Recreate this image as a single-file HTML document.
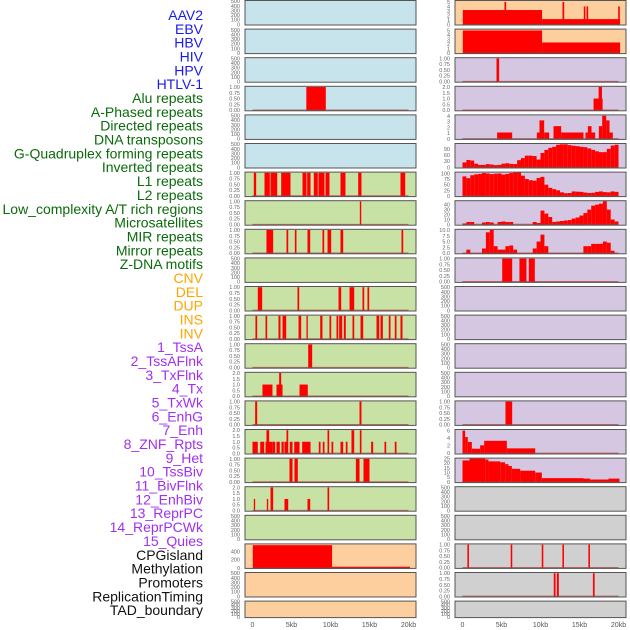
<!DOCTYPE html>
<html><head><meta charset="utf-8"><style>
html,body{margin:0;padding:0;background:#fff;}
svg{display:block;font-family:"Liberation Sans",sans-serif;}
</style></head><body>
<svg id="chart" width="630" height="630" viewBox="0 0 630 630" xmlns="http://www.w3.org/2000/svg"></svg>
<script>
// ---- labels ----
const trackLabels = ["AAV2","EBV","HBV","HIV","HPV","HTLV-1","Alu repeats","A-Phased repeats","Directed repeats","DNA transposons","G-Quadruplex forming repeats","Inverted repeats","L1 repeats","L2 repeats","Low_complexity A/T rich regions","Microsatellites","MIR repeats","Mirror repeats","Z-DNA motifs","CNV","DEL","DUP","INS","INV","1_TssA","2_TssAFlnk","3_TxFlnk","4_Tx","5_TxWk","6_EnhG","7_Enh","8_ZNF_Rpts","9_Het","10_TssBiv","11_BivFlnk","12_EnhBiv","13_ReprPC","14_ReprPCWk","15_Quies","CPGisland","Methylation","Promoters","ReplicationTiming","TAD_boundary"];
const xTickValues = [0,5,10,15,20];
const xTickLabels = ["0","5kb","10kb","15kb","20kb"];
const emptyTicks = [0,100,200,300,400,500];
const unitTicks = [0,0.25,0.5,0.75,1];
const twoTicks = [0,0.5,1,1.5,2];
// ---- left column segments [startKb, endKb, value] ----
const aluSegments = [[6.9,9.4,1]];
const l1Segments = [[0.17,0.47,1],[1.54,2.22,1],[2.31,3.17,1],[3.68,4.87,1],[6.41,6.92,1],[7.01,7.44,1],[7.86,8.37,1],[8.46,9.23,1],[9.36,9.87,1],[11.28,11.92,1],[13.55,13.97,1],[18.97,19.58,1]];
const lowComplexSegments = [[13.76,13.94,1]];
const mirSegments = [[1.79,2.65,1],[4.36,4.58,1],[5.43,5.64,1],[7.05,7.40,1],[8.97,9.19,1],[9.62,10.09,1],[11.28,11.63,1],[19.1,19.32,1]];
const delSegments = [[0.68,1.24,1],[5.77,5.99,1],[11.03,11.37,1],[12.44,13.04,1],[14.1,14.32,1],[14.74,14.96,1]];
const insSegments = [[0.38,0.6,1],[1.67,1.88,1],[3.33,3.59,1],[3.85,4.32,1],[5.9,6.24,1],[6.92,7.09,1],[8.68,8.97,1],[9.87,10.09,1],[10.77,10.99,1],[11.11,11.5,1],[11.71,11.96,1],[12.82,13.04,1],[13.85,14.19,1],[15.9,16.24,1],[16.41,16.71,1],[17.47,17.69,1],[18.24,18.46,1],[18.97,19.23,1]];
const tssaSegments = [[7.14,7.65,1]];
const txFlnkSegments = [[1.28,2.56,1],[3.08,3.85,1],[3.42,3.68,2],[6.03,7.09,1]];
const txWkSegments = [[0.34,0.6,1],[13.72,13.97,1]];
const enhSegments = [[0,0.68,1],[0.99,1.5,1],[1.67,2.6,1],[1.79,2.14,2],[2.6,2.91,1],[3.08,3.5,1],[3.72,4.01,1],[4.1,4.53,1],[4.36,4.58,2],[4.78,5.13,1],[5.35,6.03,1],[6.37,7.44,1],[8.5,8.72,1],[9.01,9.23,1],[9.62,9.83,2],[10.13,10.35,1],[11.28,11.63,1],[11.96,12.18,1],[12.69,13.04,2],[13.76,13.97,2],[15.21,15.47,1],[16.92,17.14,1],[18.24,18.46,1]];
const hetSegments = [[4.74,5.13,1],[5.38,5.81,1],[13.25,13.72,1],[14.23,15.0,1]];
const bivFlnkSegments = [[0.17,0.34,1],[1.84,2.01,1],[2.31,2.65,2],[4.1,4.58,1],[7.05,7.4,1],[9.62,9.83,2]];
const cpgSegments = [[0.04,10.2,545],[10.2,20.2,35]];
// ---- right column segments ----
const ebvSegments = [[0.04,10.2,3.2],[10.2,20.2,1.2],[5.38,5.6,5],[12.82,13.04,5],[15.55,15.75,4],[15.9,16.11,4],[19.96,20.17,4]];
const hivSegments = [[0.04,10.2,5],[10.2,20.2,2.35]];
const htlvSegments = [[4.36,4.7,1]];
const aPhasedSegments = [[16.8,17.96,1],[17.45,17.88,2]];
const dnaSegments = [[4.44,6.37,1.1],[9.53,9.87,1.1],[9.87,10.47,3.2],[10.47,11.11,1.1],[11.67,12.65,2.2],[12.65,15.51,1.1],[15.77,16.07,1.1],[16.07,16.54,2.2],[16.54,17.01,1.1],[17.48,17.91,2.2],[17.91,18.42,4],[18.42,18.85,3.2],[18.85,19.27,1.1]];
const cnvSegments = [[5.09,6.37,1],[7.3,8.2,1],[8.5,9.27,1]];
const enhGSegments = [[5.51,6.37,1]];
const znfSegments = [[0,0.34,6],[0.34,0.68,4.3],[0.68,1.2,3.0],[1.2,2.26,1.2],[2.26,2.78,2.1],[2.78,5.69,3.3],[5.69,9.32,1.3]];
const tssBivSegments = [[0,0.9,23],[0.9,2.91,25],[2.91,3.33,24],[3.33,4.83,22],[4.83,5.47,21],[5.47,5.9,19],[5.9,6.33,17],[6.33,7.39,14],[7.39,9.32,12],[9.32,10.17,10],[10.17,15.51,4],[15.51,16.37,3.5],[16.37,18.72,2.5],[18.72,20.13,3.5]];
const methSegments = [[0.63,0.83,1],[6.18,6.38,1],[10.16,10.36,1],[12.81,13.01,1],[16.14,16.34,1]];
const promoterSegments = [[11.7,11.93,1],[12.1,12.35,1],[16.72,16.94,1]];
// ---- right column profiles (0.5kb bins starting at 0) ----
const invertedBins = [24,36,33,18,12,12,16,14,11,12,18,20,17,16,35,45,57,57,55,38,70,85,95,100,110,112,112,108,105,103,100,98,92,85,78,74,74,90,106,110];
const l2Bins = [87,79,92,96,98,102,100,97,99,100,95,98,102,104,105,90,75,70,68,80,85,50,36,30,25,16,12,13,20,19,18,15,13,14,18,20,17,16,20,18];
const microBins = [2,5,5,0,0,4,5,4,0,5,6,5,5,0,0,0,0,0,5,3,28,22,15,5,6,7,8,9,12,14,18,23,30,38,40,42,47,30,10,6];
const mirrorBins = [0,1.5,0,0,0,2,9,10,3,1.5,1.5,3,3.3,1.5,0,0,0,0,2,5,8,3,0,0,0,0,0,0,0,0,0,3,3,4,4,4,5,4.5,1,0];

const BLUE="#c7e3eb", GREEN="#c8e1a5", ORANGE="#fdcf9e", PURPLE="#d5c6e1", GRAY="#d0d0d0";
const E={ticks:emptyTicks, lim:[-15,515]};
const U={ticks:unitTicks, lim:[-0.03,1.03], fmt:2};
const T={ticks:twoTicks, lim:[-0.06,2.06], fmt:1};
const leftPanels = [
 {bg:BLUE,...E},{bg:BLUE,...E},{bg:BLUE,...E},
 {bg:BLUE,...U,seg:aluSegments},{bg:BLUE,...E},{bg:BLUE,...E},
 {bg:GREEN,...U,seg:l1Segments},{bg:GREEN,...U,seg:lowComplexSegments},{bg:GREEN,...U,seg:mirSegments},
 {bg:GREEN,...E},{bg:GREEN,...U,seg:delSegments},{bg:GREEN,...U,seg:insSegments},
 {bg:GREEN,...U,seg:tssaSegments},{bg:GREEN,...T,seg:txFlnkSegments},{bg:GREEN,...U,seg:txWkSegments},
 {bg:GREEN,...T,seg:enhSegments},{bg:GREEN,...U,seg:hetSegments},{bg:GREEN,...T,seg:bivFlnkSegments},
 {bg:GREEN,...E},
 {bg:ORANGE,ticks:[0,200,400],lim:[-5,575],seg:cpgSegments},{bg:ORANGE,...E},{bg:ORANGE,...E}
];
const rightPanels = [
 {bg:ORANGE,ticks:[0,1,2,3,4,5],lim:[-0.1,5.3],seg:ebvSegments},{bg:ORANGE,ticks:[0,1,2,3,4,5],lim:[-0.1,5.3],seg:hivSegments},
 {bg:PURPLE,...U,seg:htlvSegments},{bg:PURPLE,...T,seg:aPhasedSegments},
 {bg:PURPLE,ticks:[0,1,2,3,4],lim:[-0.1,4.15],seg:dnaSegments},
 {bg:PURPLE,ticks:[0,30,60,90],lim:[-3,116],bins:invertedBins},
 {bg:PURPLE,ticks:[0,25,50,75,100],lim:[-3,106],bins:l2Bins},
 {bg:PURPLE,ticks:[0,10,20,30,40],lim:[-1.5,48],bins:microBins},
 {bg:PURPLE,ticks:[0,2.5,5,7.5,10],lim:[-0.3,10.3],fmt:1,bins:mirrorBins},
 {bg:PURPLE,...U,seg:cnvSegments},{bg:PURPLE,...E},{bg:PURPLE,...E},{bg:PURPLE,...E},{bg:PURPLE,...E},
 {bg:PURPLE,...U,seg:enhGSegments},{bg:PURPLE,ticks:[0,2,4,6],lim:[-0.2,6.3],seg:znfSegments},
 {bg:PURPLE,ticks:[0,5,10,15,20,25],lim:[-0.8,25.5],seg:tssBivSegments},
 {bg:GRAY,...E},{bg:GRAY,...E},{bg:GRAY,...U,seg:methSegments},{bg:GRAY,...U,seg:promoterSegments},{bg:GRAY,...E}
];

const NS="http://www.w3.org/2000/svg";
const svg=document.getElementById('chart');
function mk(tag,attrs,parent){const e=document.createElementNS(NS,tag);for(const k in attrs)e.setAttribute(k,attrs[k]);(parent||svg).appendChild(e);return e;}

// track labels
const labelColor=i=> i<6?"#1a1aee": i<19?"#0a6b0a": i<24?"#ffa500": i<39?"#a030f0":"#111";
trackLabels.forEach((t,i)=>{
  const el=mk('text',{x:203,y:20+i*13.84,'text-anchor':'end','font-size':14,fill:labelColor(i)});
  el.textContent=t;
  
  
});

const PW=171, KB0=-0.96, KB1=20.96;
function rowTop(r){return 0.5+28.6*r;}
function rowH(r){return r===21?16.5:24.5;}
function fmtTick(v,f){return f?v.toFixed(f):String(v);}

function drawPanel(p,r,x0,side){
  const top=rowTop(r), h=rowH(r);
  const g=mk('g',{});
  
  
  const X=kb=>x0+(kb-KB0)/(KB1-KB0)*PW;
  const Y=v=>top+h-(v-p.lim[0])/(p.lim[1]-p.lim[0])*h;
  const bg=mk('rect',{x:x0,y:top,width:PW,height:h,fill:p.bg},g);
  
  
  const marks=[];
  if(p.seg) p.seg.forEach(s=>marks.push(s));
  if(p.bins) p.bins.forEach((v,i)=>{ if(v>0) marks.push([i*0.5,i*0.5+0.5,v]); });
  marks.forEach(s=>{
    const xa=X(s[0]), xb=X(s[1]);
    const yv=Math.max(Y(s[2]),top);
    const b=mk('rect',{x:xa,y:yv,width:Math.max(xb-xa,1.2),height:Y(0)-yv+0.5,fill:'#ff0000'},g);
    
    
  });
  if(marks.length){
    const bl=mk('line',{x1:X(0),x2:X(20),y1:Y(0),y2:Y(0),stroke:'#b03a3a','stroke-width':1.3,opacity:0.7},g);
    
    
  }
  const br=mk('rect',{x:x0,y:top,width:PW,height:h,fill:'none',stroke:'#555','stroke-width':1},g);
  
  
  p.ticks.forEach(v=>{
    const t=mk('text',{x:x0-5,y:Y(v)+2,'text-anchor':'end','font-size':5.5,fill:'#666'},g);
    t.textContent=fmtTick(v,p.fmt);
    
    
  });
  if(r===21){
    xTickValues.forEach((v,i)=>{
      const t=mk('text',{x:X(v),y:627,'text-anchor':'middle','font-size':7,fill:'#555'},g);
      t.textContent=xTickLabels[i];
      
      
    });
  }
}
leftPanels.forEach((p,r)=>drawPanel(p,r,245,'left'));
rightPanels.forEach((p,r)=>drawPanel(p,r,455,'right'));
</script>
</body></html>
